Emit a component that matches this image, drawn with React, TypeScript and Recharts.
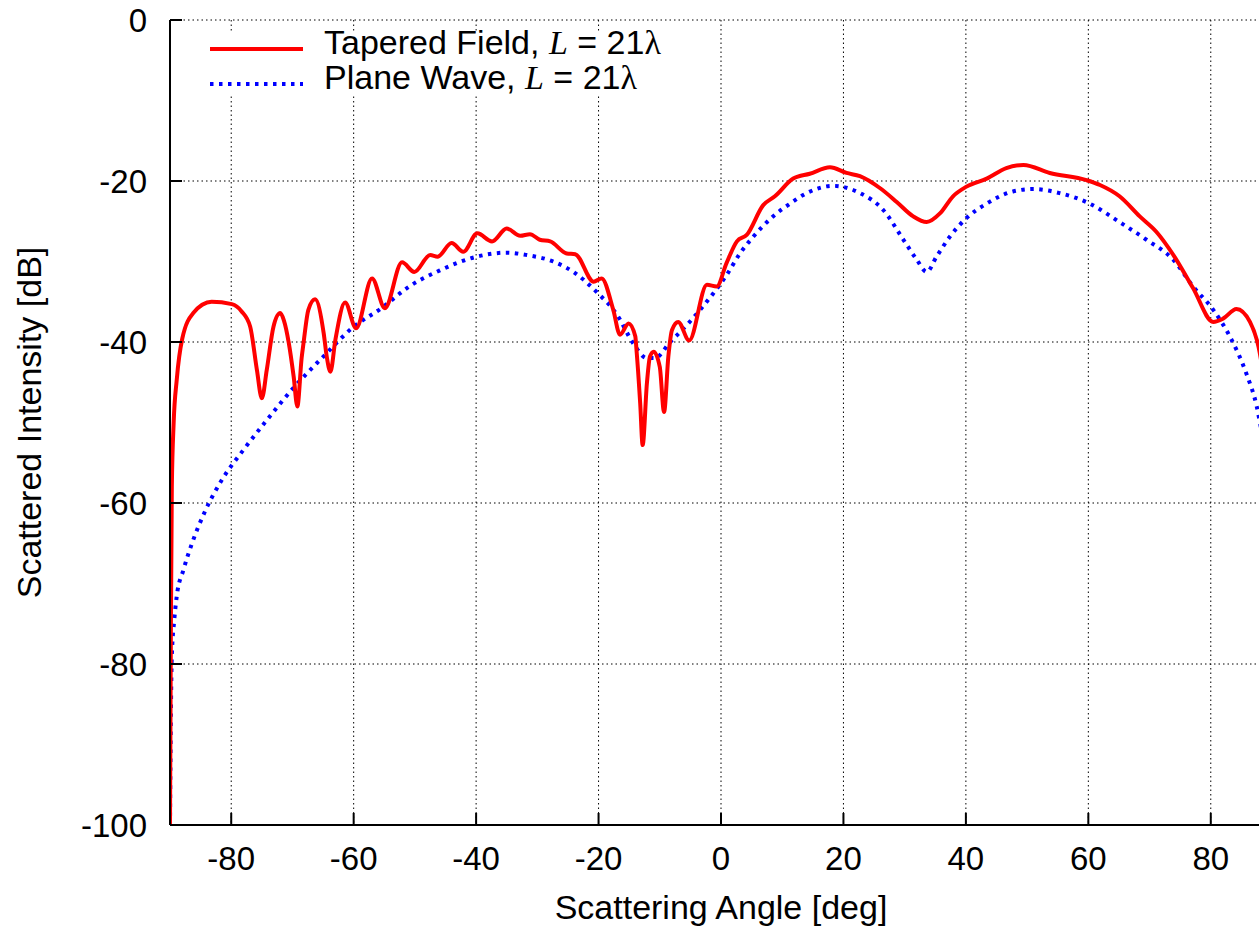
import { CartesianGrid, Legend, Line, LineChart, XAxis, YAxis } from "recharts";

// Tapered field, L = 21 lambda
const taperedAngle = [
  -90, -89.85, -89.7, -89.4, -88.9, -88.0, -86.2, -83.2, -79.9, -78.3, -76.9, -75.8, -75.0, -74.2, -73.1,
  -72.0, -71.4, -70.6, -69.8, -69.2, -68.5, -68.2, -67.4, -66.3, -64.9, -64.4, -63.8, -63.0, -61.4, -59.6,
  -57.0, -54.9, -52.1, -50.1, -47.5, -46.3, -44.0, -42.1, -39.8, -37.4, -35.0, -32.8, -31.2,
  -29.6, -27.9, -25.2, -23.8, -20.8, -19.5, -17.6, -16.5, -15.1, -14.0, -13.8, -13.2, -12.8, -12.1, -11.6,
  -11.0, -10.0, -9.3, -8.6, -8.0, -7.0, -5.2,
  -2.3, -0.7, 0.9, 2.6, 4.2, 6.9, 8.8, 11.8, 14.5, 17.8, 20.5, 22.7, 26.0, 28.7, 31.4, 33.6, 35.8, 37.9,
  40.1, 43.4, 46.6, 49.4, 53.7, 59.7, 61.9, 65.1, 68.4, 71.1, 73.9, 77.1, 80.4, 82.0, 84.2, 86.4, 87.8, 89.0,
];
const taperedDb = [
  -100, -75, -58, -50, -44.7, -39.6, -36.4, -35.0, -35.3, -36.2, -38.1, -43.5, -47.0, -43.5, -38.1,
  -36.4, -37.3, -40.1, -44.3, -48.0, -42.0, -40.2, -36.0, -34.7, -38.9, -41.8, -43.7, -39.8, -35.1, -38.3,
  -32.1, -35.8, -30.1, -31.3, -29.2, -29.4, -27.7, -28.8, -26.5, -27.5, -25.9, -26.8, -26.6,
  -27.3, -27.5, -29.0, -29.1, -32.5, -32.1, -36.0, -39.1, -37.7, -39.3, -41.0, -47.6, -52.8, -45.1, -41.8,
  -41.2, -43.1, -48.7, -41.8, -38.5, -37.5, -39.8,
  -32.9, -33.1, -30.2, -27.5, -26.7, -23.0, -21.9, -19.7, -19.1, -18.3, -19.0, -19.4, -20.9, -22.6, -24.4, -25.1, -24.0, -21.9,
  -20.7, -19.7, -18.4, -18.0, -19.0, -19.9, -20.5, -21.9, -24.4, -26.3, -29.2, -33.3, -37.5, -37.1, -35.9, -37.5, -40.6, -46.0,
];

// Plane wave, L = 21 lambda
const planeAngle = [
  -90, -89.85, -89.7, -89.3, -88.9, -87.8, -86.4, -84.2, -81.5, -78.0, -74.4, -69.6, -65.2, -60.3, -55.1,
  -51.3, -45.9, -40.4, -35.0, -31.7, -27.4, -24.1, -20.3, -17.0, -14.3, -12.1, -10.8, -8.3, -5.6, -3.4,
  -1.3, 0.9, 3.1, 5.3, 8.5, 11.3, 14.0, 18.3, 22.7, 26.5, 29.8, 32.0, 33.6, 35.2, 37.4, 40.1, 43.4, 47.7,
  51.0, 55.3, 60.2, 65.1, 69.5, 73.9, 77.1, 80.4, 83.1, 85.8, 87.5, 88.5,
];
const planeDb = [
  -100, -86, -79, -74.5, -71.6, -68.3, -65.0, -60.9, -57.1, -53.4, -49.9, -45.5, -42.0, -38.3, -35.6,
  -33.3, -31.1, -29.5, -28.9, -29.2, -30.0, -31.3, -33.8, -36.6, -40.2, -42.0, -42.0, -40.0, -37.9, -36.0,
  -34.0, -31.7, -29.0, -26.9, -24.4, -22.8, -21.5, -20.6, -21.5, -23.6, -27.3, -29.8, -31.3, -29.4, -26.9, -24.6, -22.8, -21.3,
  -21.0, -21.5, -22.8, -25.1, -27.3, -29.8, -33.1, -36.0, -39.3, -43.9, -48.0, -52.0,
];

const angleTicks = [-80, -60, -40, -20, 0, 20, 40, 60, 80];
const dbTicks = [-100, -80, -60, -40, -20, 0];
const seriesNames = ["Tapered Field", "Plane Wave"];
const lengthLabel = "21";

const tapered = taperedAngle.map((a, i) => ({ angle: a, db: taperedDb[i] }));
const plane = planeAngle.map((a, i) => ({ angle: a, db: planeDb[i] }));

const FONT = '"Liberation Sans", Arial, Helvetica, sans-serif';
const SERIF = '"Liberation Serif", "Times New Roman", serif';
const FS = 33;
const TITLE_FS = 34;

function BottomTick({ x, y, payload }: any) {
  return (
    <g>
      <line x1={x} x2={x} y1={y} y2={y - 12} stroke="#000" strokeWidth={2} />
      <text x={x} y={y + 45} textAnchor="middle" fontSize={FS} fontFamily={FONT} fill="#000">
        {payload.value}
      </text>
    </g>
  );
}

function TopTick({ x, y }: any) {
  return <line x1={x} x2={x} y1={y} y2={y + 12} stroke="#000" strokeWidth={2} />;
}

function LeftTick({ x, y, payload }: any) {
  return (
    <g>
      <line x1={x} x2={x + 12} y1={y} y2={y} stroke="#000" strokeWidth={2} />
      <text x={x - 23} y={y + 12} textAnchor="end" fontSize={FS} fontFamily={FONT} fill="#000">
        {payload.value}
      </text>
    </g>
  );
}

function LegendBox() {
  const rows = [
    { name: seriesNames[0], color: "#ff0000", dash: undefined },
    { name: seriesNames[1], color: "#0000ff", dash: "3.5 5.5" },
  ];
  return (
    <svg width={520} height={82} style={{ display: "block" }}>
      <rect x={0} y={11} width={520} height={62} fill="#fff" />
      {rows.map((r, i) => (
        <g key={r.name}>
          <line x1={32} x2={125} y1={28 + i * 35} y2={28 + i * 35} stroke={r.color} strokeWidth={4} strokeDasharray={r.dash} />
          <text x={146} y={33 + i * 35} fontSize={TITLE_FS} fontFamily={FONT} fill="#000">
            {r.name},{" "}
            <tspan fontFamily={SERIF} fontStyle="italic">
              L
            </tspan>{" "}
            = {lengthLabel}
            <tspan fontFamily={SERIF}>{"\u03bb"}</tspan>
          </text>
        </g>
      ))}
    </svg>
  );
}

export default function App() {
  return (
    <div style={{ position: "absolute", left: 0, top: 0, width: 1259, height: 930, overflow: "hidden", background: "#fff" }}>
      <LineChart width={1300} height={930} margin={{ top: 20, right: 28, left: 0, bottom: 0 }}>
        <CartesianGrid stroke="#000" strokeWidth={1} strokeDasharray="1.5 3" />
        <XAxis
          dataKey="angle"
          type="number"
          domain={[-90, 90]}
          ticks={angleTicks}
          allowDataOverflow
          height={105}
          tickSize={0}
          tickMargin={0}
          tick={BottomTick}
          axisLine={{ stroke: "#000", strokeWidth: 2 }}
          label={{
            content: ({ viewBox }: any) => (
              <text x={viewBox.x + viewBox.width / 2} y={919} textAnchor="middle" fontSize={TITLE_FS} fontFamily={FONT} fill="#000">
                Scattering Angle [deg]
              </text>
            ),
          }}
        />
        <XAxis
          xAxisId="top"
          orientation="top"
          dataKey="angle"
          type="number"
          domain={[-90, 90]}
          ticks={angleTicks}
          allowDataOverflow
          height={0}
          tickSize={0}
          tickMargin={0}
          tick={TopTick}
          axisLine={{ stroke: "#000", strokeWidth: 2 }}
        />
        <YAxis
          type="number"
          domain={[-100, 0]}
          ticks={dbTicks}
          allowDataOverflow
          width={170}
          tickSize={0}
          tickMargin={0}
          tick={LeftTick}
          axisLine={{ stroke: "#000", strokeWidth: 2 }}
          label={{
            content: ({ viewBox }: any) => (
              <text
                transform={`translate(41, ${viewBox.y + viewBox.height / 2}) rotate(-90)`}
                textAnchor="middle"
                fontSize={TITLE_FS}
                fontFamily={FONT}
                fill="#000"
              >
                Scattered Intensity [dB]
              </text>
            ),
          }}
        />
        <Legend
          layout="vertical"
          align="center"
          verticalAlign="middle"
          wrapperStyle={{ position: "absolute", left: 178, top: 21, width: 520, height: 82 }}
          content={LegendBox}
        />
        <Line
          data={plane}
          dataKey="db"
          type="monotone"
          stroke="#0000ff"
          strokeWidth={4}
          strokeDasharray="3.5 5.5"
          dot={false}
          activeDot={false}
          isAnimationActive={false}
        />
        <Line
          data={tapered}
          dataKey="db"
          type="monotone"
          stroke="#ff0000"
          strokeWidth={4}
          dot={false}
          activeDot={false}
          isAnimationActive={false}
        />
      </LineChart>
    </div>
  );
}
